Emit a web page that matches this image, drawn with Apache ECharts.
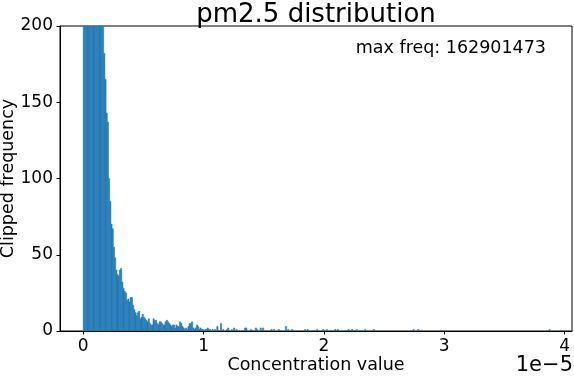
<!DOCTYPE html>
<html>
<head>
<meta charset="utf-8">
<script src="https://cdn.jsdelivr.net/npm/echarts@6.0.0/dist/echarts.min.js"></script>
<style>
  html, body { margin: 0; padding: 0; background: #fff; }
  #grafico { width: 574px; height: 376px; }
</style>
</head>
<body>
<div id="grafico"></div>
<script>
// x in units of 1e-5, bins of width 0.01 starting at 0
const larguraBin = 0.01;
const contagensDensas = [
  200, 200, 200, 200, 200, 200, 200, 200, 200, 200, 200, 200, 200, 200, 200, 200, 200,
  182, 165, 143, 137, 100, 85, 70, 67, 55, 48, 40, 37, 36, 40, 41,
  32, 28, 26, 25, 20, 21, 19, 22, 22, 17, 14, 12, 10, 12, 13,
  8, 9, 11, 9, 8, 7, 6, 8, 5, 4, 4, 8, 7, 7, 5, 4, 6, 6, 5, 4,
  4, 6, 7, 6, 5, 4, 3, 4, 4, 2, 4, 3, 3, 6, 5, 3, 2, 1, 2, 1,
  3, 5, 5, 6, 2, 1, 2, 4, 3, 1, 2, 1, 1, 0, 1, 1, 2, 1
];
// sparse tail: bin start and count
const caudaX = [1.05, 1.07, 1.09, 1.11, 1.14, 1.16, 1.19, 1.20, 1.23, 1.25, 1.27, 1.34, 1.35, 1.39,
  1.43, 1.44, 1.47, 1.49, 1.56, 1.58, 1.62, 1.68, 1.70, 1.73, 1.84, 1.86, 1.94, 1.99, 2.02,
  2.09, 2.11, 2.20, 2.23, 2.27, 2.34, 2.41, 2.74, 2.78, 3.87];
const caudaY = [1, 1, 1, 3, 5, 1, 1, 2, 1, 2, 1, 2, 2, 1,
  2, 1, 2, 2, 1, 1, 1, 3, 1, 1, 1, 1, 1, 1, 1,
  1, 1, 1, 1, 1, 1, 1, 1, 1, 1];
const ticksX = [0, 1, 2, 3, 4];
const titulo = "pm2.5 distribution";
const maxFreq = 162901473;

const fonte = "DejaVu Sans";

const dados = contagensDensas
  .map((v, i) => [i * larguraBin, v])
  .concat(caudaX.map((x, i) => [x, caudaY[i]]))
  .filter((d) => d[1] > 0);

const chart = echarts.init(document.getElementById("grafico"), null, { renderer: "canvas" });

const option = {
  animation: false,
  grid: {
    left: 60,
    right: 2,
    top: 26,
    bottom: 45,
    containLabel: false,
    outerBoundsMode: "none",
    show: true,
    borderColor: "#000",
    borderWidth: 1,
    backgroundColor: "transparent",
  },
  xAxis: {
    type: "value",
    min: -0.193,
    max: 4.062,
    name: "Concentration value",
    nameLocation: "middle",
    nameGap: 25,
    nameMoveOverlap: false,
    nameTextStyle: { fontFamily: fonte, fontSize: 17.5, color: "#000" },
    axisLine: { show: true, onZero: false, lineStyle: { color: "#000", width: 1 } },
    axisTick: { show: true, length: 3.5, customValues: ticksX, lineStyle: { color: "#000" } },
    axisLabel: {
      customValues: ticksX,
      margin: 7,
      fontFamily: fonte,
      fontSize: 17,
      color: "#000",
    },
    splitLine: { show: false },
  },
  yAxis: {
    type: "value",
    min: 0,
    max: 200,
    interval: 50,
    name: "Clipped frequency",
    nameLocation: "middle",
    nameGap: 43,
    nameMoveOverlap: false,
    nameTextStyle: { fontFamily: fonte, fontSize: 17.5, color: "#000" },
    axisLine: { show: true, onZero: false, lineStyle: { color: "#000", width: 1 } },
    axisTick: { show: true, length: 3.5, lineStyle: { color: "#000" } },
    axisLabel: { margin: 7, fontFamily: fonte, fontSize: 17, color: "#000" },
    splitLine: { show: false },
  },
  series: [
    {
      type: "custom",
      clip: true,
      data: dados,
      renderItem: (params, api) => {
        const x0 = api.value(0);
        const y = api.value(1);
        const topo = api.coord([x0, y]);
        const base = api.coord([x0 + larguraBin, 0]);
        return {
          type: "rect",
          shape: { x: topo[0], y: topo[1], width: base[0] - topo[0], height: base[1] - topo[1] },
          style: { fill: "#1f77b4", stroke: "#2a7db8", lineWidth: 0.6 },
        };
      },
    },
  ],
  graphic: [
    {
      type: "text",
      x: 316,
      y: 15,
      style: { text: titulo, font: "26px " + fonte, fill: "#000", align: "center", verticalAlign: "middle" },
    },
    {
      type: "text",
      x: 546,
      y: 48,
      style: { text: "max freq: " + maxFreq, font: "17.5px " + fonte, fill: "#000", align: "right", verticalAlign: "middle" },
    },
    {
      type: "text",
      x: 573,
      y: 366,
      style: { text: "1e\u22125", font: "21px " + fonte, fill: "#000", align: "right", verticalAlign: "middle" },
    },
  ],
};

chart.setOption(option);
</script>
</body>
</html>
